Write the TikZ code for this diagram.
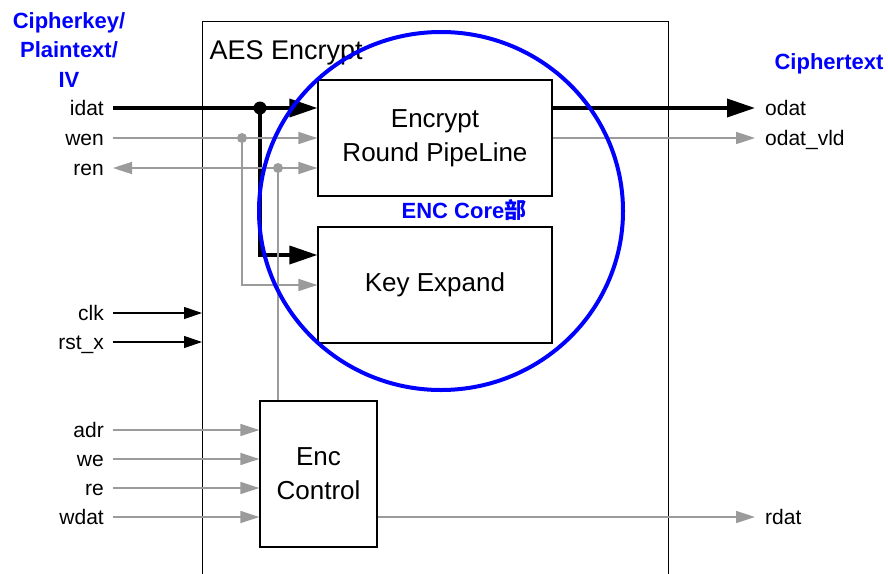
\documentclass[tikz,border=0pt]{standalone}
\usepackage{fontspec}
\setmainfont{Liberation Sans}
\newfontfamily\cjk{Noto Sans CJK SC}
\usetikzlibrary{arrows.meta}
\definecolor{wiregray}{RGB}{155,155,155}
\definecolor{coreblue}{RGB}{0,0,255}

\begin{document}
\begin{tikzpicture}[x=1pt,y=-1pt,
    sig/.style={font=\fontsize{21}{25}\selectfont, text height=16pt, text depth=1pt},
    insig/.style={sig, anchor=east, inner xsep=9pt},
    outsig/.style={sig, anchor=west, inner xsep=10pt},
    block/.style={draw, line width=1.2pt, fill=white, align=center,
      font=\fontsize{26}{34}\selectfont},
    bus/.style={line width=3.6pt, -{Triangle[length=28pt,width=18pt]}},
    wireline/.style={wiregray, line width=1.6pt},
    wire/.style={wireline, -{Triangle[length=19pt,width=12pt]}},
    ctrl/.style={line width=1.2pt, -{Triangle[length=18pt,width=12pt]}},
    note/.style={coreblue, align=center, font=\bfseries\fontsize{22}{29.5}\selectfont}]

  \useasboundingbox (0,0) rectangle (888,573);

  \node[draw, line width=1pt, anchor=north west, minimum width=466pt, minimum height=600pt] (aes) at (202,21) {};
  \node[anchor=base west, font=\fontsize{27}{32}\selectfont] (aestitle) at (206,59) {AES Encrypt};

  \node[block, minimum width=234pt, minimum height=116pt] (enc) at (435,138) {Encrypt\\Round PipeLine};
  \node[block, minimum width=234pt, minimum height=116pt] (key) at (435,285) {Key Expand};
  \node[block, minimum width=117pt, minimum height=146pt] (ctl) at (318.5,474) {Enc\\Control};

  \foreach \name/\txt/\y in {idat/idat/108, wen/wen/138, ren/ren/168, clk/clk/313, rst/rst\_x/342,
      adr/adr/430, we/we/459, re/re/488, wdat/wdat/517}
    \node[insig] (\name) at (113,\y) {\txt};
  \node[outsig] (odat) at (755,108) {odat};
  \node[outsig] (odatvld) at (755,138) {odat\_vld};
  \node[outsig] (rdat) at (755,517) {rdat};

  \node[note] (srcnote) at (69,50) {Cipherkey/\\Plaintext/\\IV};
  \node[note] (outnote) at (829,64) {Ciphertext};
  \node[note] (corenote) at (464,210) {ENC Core{\cjk 部}};

  \coordinate (jd) at (260,108);
  \coordinate (jw) at (242,138);
  \coordinate (jr) at (278,168);

  \draw[bus] (idat.east) -- (enc.west |- idat);
  \draw[bus] (jd) |- ([yshift=30pt]key.west);
  \draw[bus] (enc.east |- odat) -- (odat.west);

  \draw[wire] (wen.east) -- (enc.west |- wen);
  \draw[wire] (jw) |- (key.west);
  \draw[wireline, {Triangle[length=19pt,width=12pt]}-{Triangle[length=19pt,width=12pt]}] (ren.east) -- (enc.west |- ren);
  \draw[wireline] (jr) -- (jr |- ctl.north);
  \draw[wire] (enc.east) -- (odatvld.west);

  \draw[ctrl] (clk.east) -- (clk -| aes.west);
  \draw[ctrl] (rst.east) -- (rst -| aes.west);
  \foreach \s in {adr,we,re,wdat}
    \draw[wire] (\s.east) -- (\s -| ctl.west);
  \draw[wire] (ctl.east |- rdat) -- (rdat.west);

  \fill (jd) circle[radius=6.5pt];
  \fill[wiregray] (jw) circle[radius=5pt];
  \fill[wiregray] (jr) circle[radius=5pt];

  \draw[coreblue, line width=4pt] (441,211) ellipse[x radius=182pt, y radius=179pt];
\end{tikzpicture}
\end{document}
